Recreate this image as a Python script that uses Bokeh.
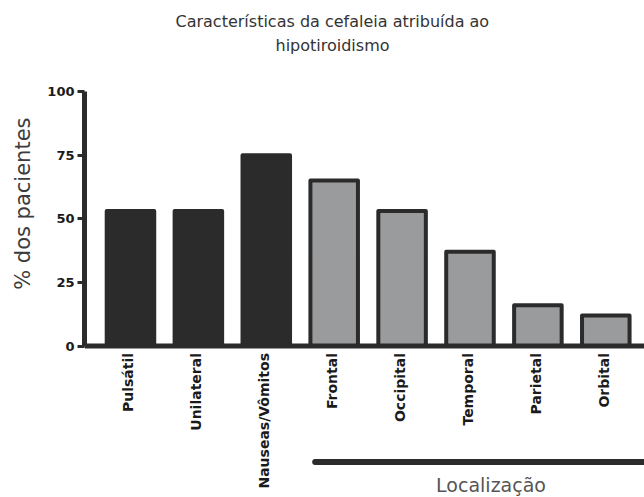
import numpy as np
from bokeh.plotting import figure
from bokeh.models import Range1d, FixedTicker, ColumnDataSource, Span, Title
from bokeh.core.properties import value
from bokeh.embed import file_html
from bokeh.resources import INLINE

# ---- data ----
categories = ["Pulsátil", "Unilateral", "Nauseas/Vômitos", "Frontal", "Occipital",
              "Temporal", "Parietal", "Orbital"]
percent = [53, 53, 75, 65, 53, 37, 16, 12]
group = ["Característica", "Característica", "Característica", "Localização",
         "Localização", "Localização", "Localização", "Localização"]
y_ticks = [0, 25, 50, 75, 100]
title_line1 = "Características da cefaleia atribuída ao"
title_line2 = "hipotiroidismo"
y_label = "% dos pacientes"
bracket_label = "Localização"

# ---- styling ----
DARK = "#2b2b2b"
GRAY = "#9a9b9d"
color_map = {"Característica": DARK, "Localização": GRAY}

xpos = np.arange(len(categories))
src = ColumnDataSource(dict(x=xpos, top=percent,
                            fill=[color_map[g] for g in group]))

p = figure(width=644, height=497, output_backend="svg", toolbar_location=None,
           x_range=Range1d(-0.677, 7.57), y_range=Range1d(-59.53, 114.15),
           x_axis_location=None,
           min_border_left=84, min_border_top=55, min_border_bottom=0,
           min_border_right=0)

# title (two centred lines)
p.title.text = title_line1
p.title.align = "left"
p.title.offset = 91
p.title.standoff = 5
p.title.text_font = "DejaVu Sans"
p.title.text_font_size = "16px"
p.title.text_font_style = "normal"
p.title.text_color = "#333333"
p.add_layout(Title(text=title_line2, align="left", offset=191, standoff=1,
                   text_font="DejaVu Sans", text_font_size="16px",
                   text_font_style="normal", text_color="#333333"), "above")

p.vbar(x="x", top="top", width=0.70, bottom=0, source=src,
       fill_color="fill", line_color=DARK, line_width=4, line_join="round")

p.grid.visible = False
p.outline_line_color = None

# x axis line at zero
p.add_layout(Span(location=0, dimension="width", line_color=DARK, line_width=5))

# category labels, vertical under each bar
p.text(x=xpos, y=np.zeros(len(xpos)), text=categories, angle=np.pi / 2,
       text_align="right", text_baseline="middle", y_offset=7, x_offset=-2,
       text_font=value("DejaVu Sans"), text_font_style="bold",
       text_font_size="14px", text_color="#1a1a1a")

# y axis
ya = p.yaxis[0]
ya.bounds = (0, 100)
ya.ticker = FixedTicker(ticks=y_ticks)
ya.axis_line_width = 5
ya.axis_line_color = DARK
ya.major_tick_line_width = 3
ya.major_tick_line_color = DARK
ya.major_tick_out = 7
ya.major_tick_in = 0
ya.minor_tick_line_color = None
ya.major_label_text_font = "DejaVu Sans"
ya.major_label_text_font_style = "bold"
ya.major_label_text_font_size = "13px"
ya.major_label_text_color = "#1a1a1a"
ya.major_label_standoff = 3

# y axis title, placed along the 0-100 part of the axis
p.add_layout(Title(text=y_label, align="right", vertical_align="middle",
                   offset=62, standoff=18,
                   text_font="DejaVu Sans", text_font_size="21px",
                   text_font_style="normal", text_color="#3c3c3c"), "left")

# bracket for the location group
loc_idx = [i for i, g in enumerate(group) if g == bracket_label]
b_start = loc_idx[0] - 0.28
b_end = len(categories) - 0.1
p.segment(x0=[b_start], y0=[-45.6], x1=[b_end], y1=[-45.6],
          line_color=DARK, line_width=6, line_cap="round")
p.text(x=[(b_start + b_end) / 2], y=[-54.6], text=[bracket_label],
       text_align="center", text_baseline="middle",
       text_font=value("DejaVu Sans"), text_font_size="19px",
       text_color="#555555")

open("out.html", "w").write(file_html(p, INLINE))
